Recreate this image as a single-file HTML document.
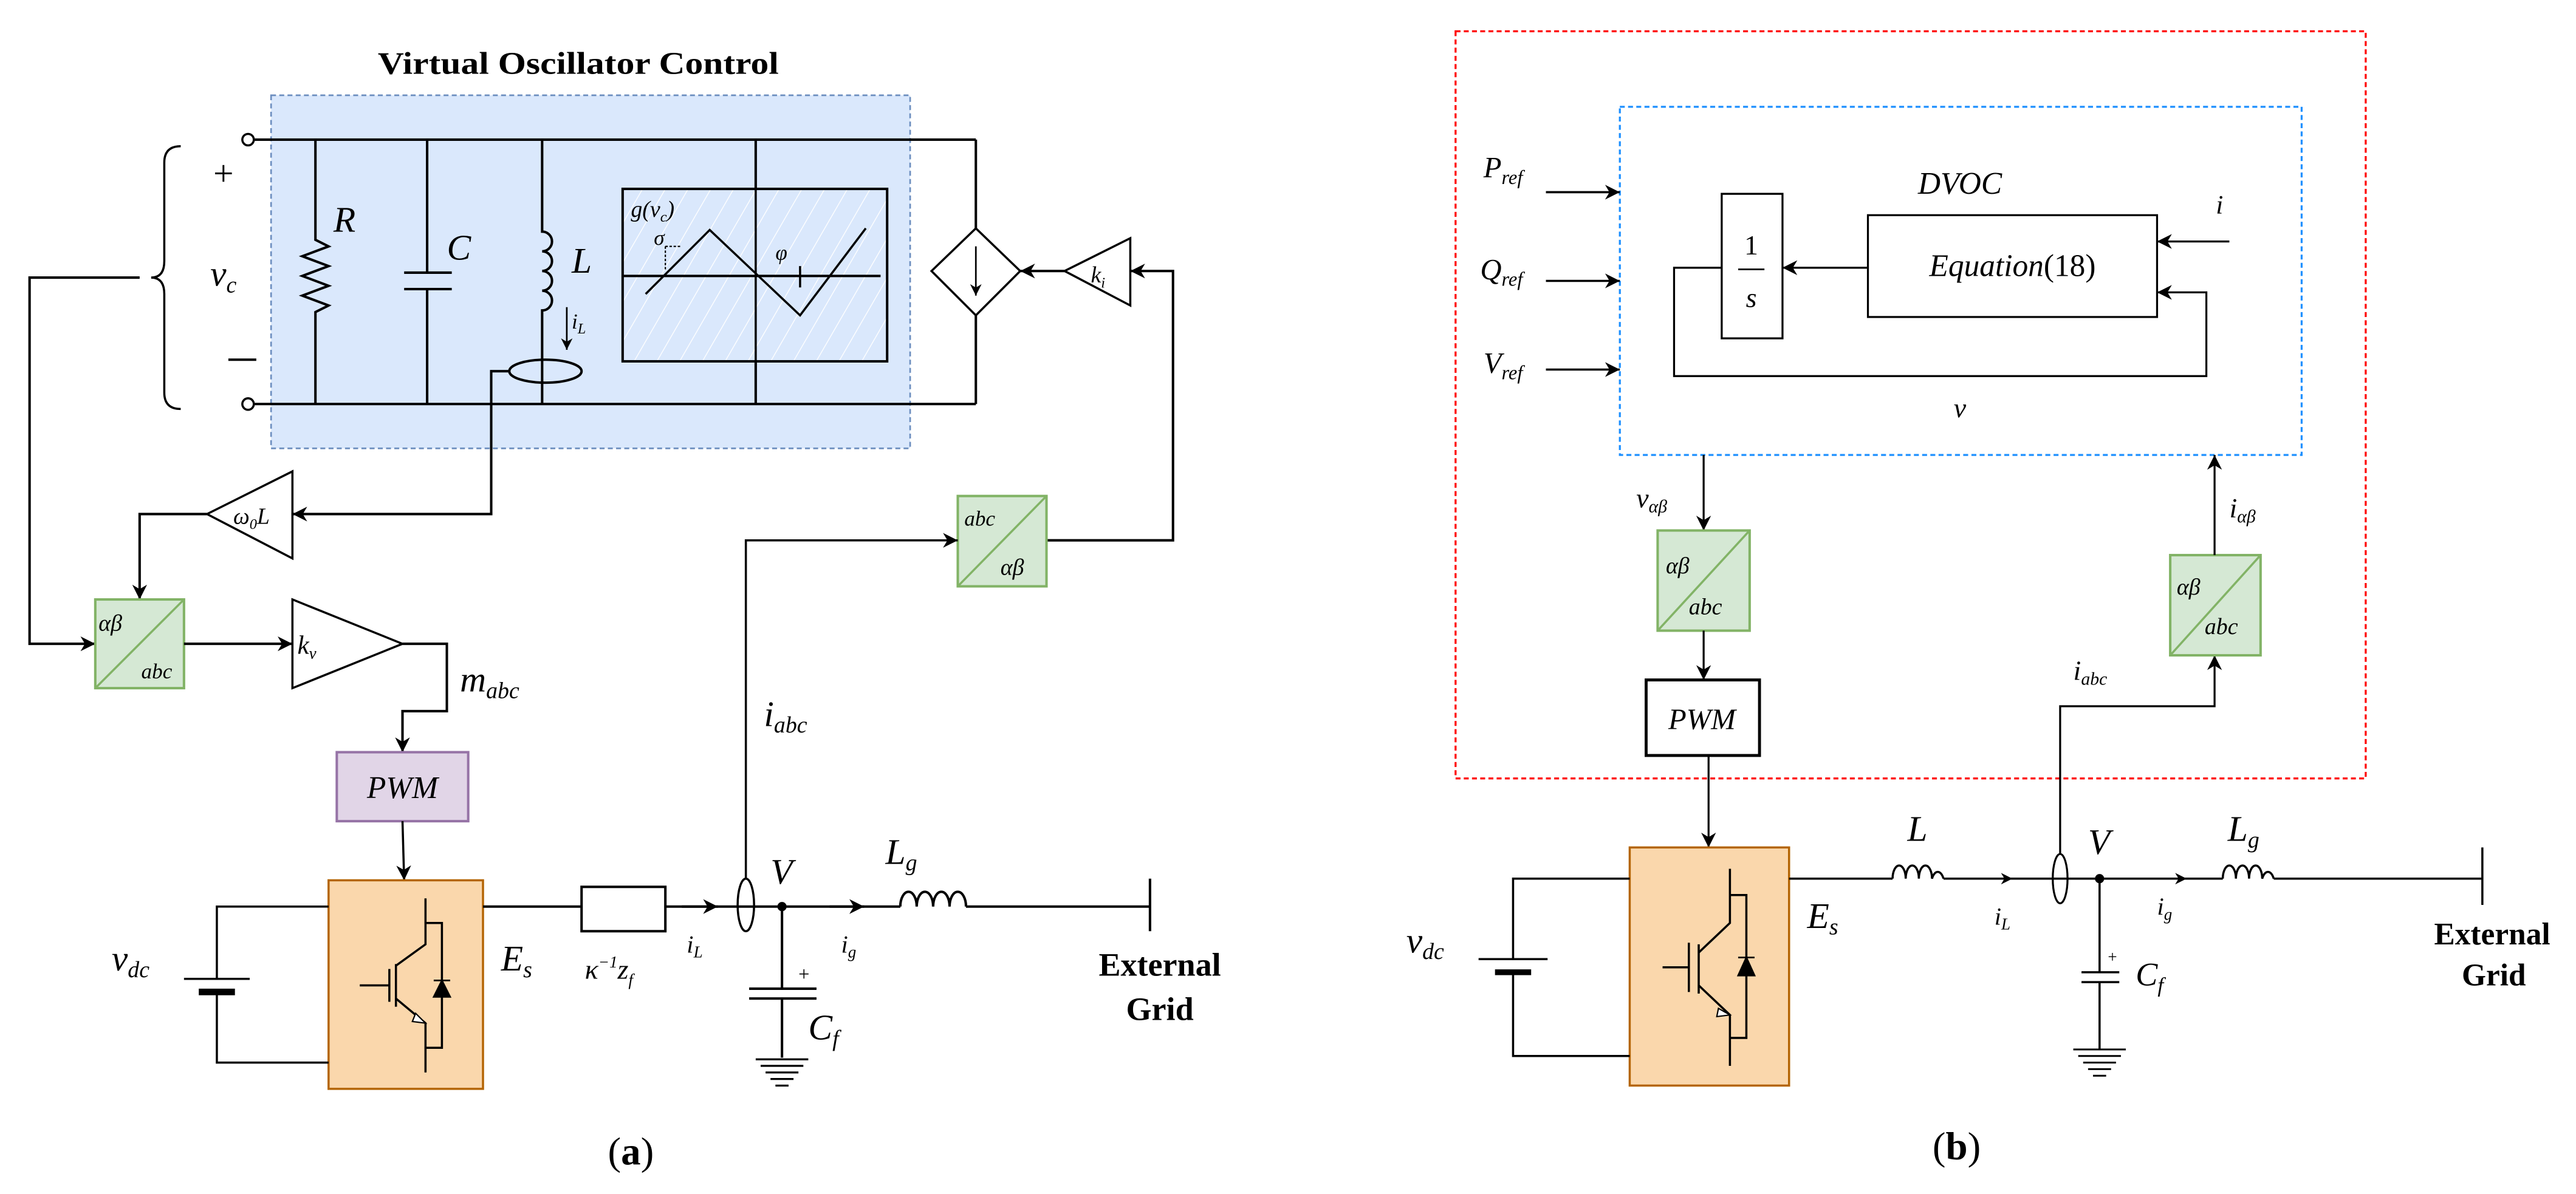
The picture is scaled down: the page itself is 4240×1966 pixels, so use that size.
<!DOCTYPE html>
<html><head><meta charset="utf-8">
<style>
html,body{margin:0;padding:0;background:#fff;}
svg{display:block;}
text{font-family:"Liberation Serif",serif;fill:#000;}
.m{font-style:italic;}
.b{font-weight:bold;}
</style></head><body>
<svg width="4240" height="1966" viewBox="0 0 1568 727" xmlns="http://www.w3.org/2000/svg">
<defs>
<marker id="ar" viewBox="0 0 10 10" refX="10" refY="5" markerWidth="7" markerHeight="7" orient="auto" markerUnits="userSpaceOnUse">
<path d="M0,0 L10,5 L0,10 L3,5 z" fill="#000"/></marker>
<marker id="ar2" viewBox="0 0 10 10" refX="10" refY="5" markerWidth="9" markerHeight="9" orient="auto" markerUnits="userSpaceOnUse">
<path d="M0,0 L10,5 L0,10 L3,5 z" fill="#000"/></marker>
<pattern id="hatch" width="12" height="12" patternUnits="userSpaceOnUse" patternTransform="rotate(30)">
<rect width="12" height="12" fill="#dae8fc"/><line x1="0" y1="0" x2="0" y2="12" stroke="#fff" stroke-width="1"/></pattern>
</defs>
<rect width="1568" height="727" fill="#fff"/>

<!-- ================= PANEL A ================= -->
<text x="352" y="45" class="b" font-size="19" text-anchor="middle" textLength="244" lengthAdjust="spacingAndGlyphs">Virtual Oscillator Control</text>
<rect x="165" y="58" width="389" height="215" fill="#dae8fc" stroke="#6c8ebf" stroke-width="1" stroke-dasharray="3,2"/>

<g stroke="#000" stroke-width="1.5" fill="none">
<!-- rails -->
<line x1="155" y1="85" x2="594" y2="85"/>
<line x1="155" y1="246" x2="594" y2="246"/>
<line x1="594" y1="85" x2="594" y2="139"/>
<line x1="594" y1="192" x2="594" y2="246"/>
<!-- R -->
<path d="M192,85 V146 l8,4 l-16,6 l16,6 l-16,6 l16,6 l-16,6 l16,6 l-8,4 V246"/>
<!-- C -->
<path d="M260,85 V166 M246,166 H275 M246,176 H275 M260,176 V246"/>
<!-- L -->
<path d="M330,85 V141 a6,6 0 0 1 0,12 a6,6 0 0 1 0,12 a6,6 0 0 1 0,12 a6,6 0 0 1 0,12 V246"/>
<!-- vertical line through g box -->
<line x1="460" y1="85" x2="460" y2="246"/>
</g>
<circle cx="151" cy="85" r="3.5" fill="#fff" stroke="#000" stroke-width="1.3"/>
<circle cx="151" cy="246" r="3.5" fill="#fff" stroke="#000" stroke-width="1.3"/>
<!-- g box -->
<rect x="379" y="115" width="161" height="105" fill="url(#hatch)" stroke="#000" stroke-width="1.5"/>
<line x1="460" y1="115" x2="460" y2="220" stroke="#000" stroke-width="1.3"/>
<line x1="379" y1="168" x2="536" y2="168" stroke="#000" stroke-width="1.5"/>
<polyline points="393,179 432,140 487,192 527,139" fill="none" stroke="#000" stroke-width="1.3"/>
<line x1="487" y1="162" x2="487" y2="175" stroke="#000" stroke-width="1.3"/>
<path d="M405,150 H414 M405,150 V165" stroke="#000" stroke-width="0.8" stroke-dasharray="1.5,1" fill="none"/>
<text x="384" y="132" class="m" font-size="14">g(v<tspan font-size="9" dy="3">c</tspan><tspan dy="-3">)</tspan></text>
<text x="398" y="149" class="m" font-size="13">σ</text>
<text x="472" y="158" class="m" font-size="13">φ</text>
<!-- i_L arrow & sensor -->
<line x1="345" y1="187" x2="345" y2="213" stroke="#000" stroke-width="1" marker-end="url(#ar)"/>
<text x="348" y="200" class="m" font-size="13">i<tspan font-size="9" dy="3">L</tspan></text>
<ellipse cx="332" cy="226" rx="22" ry="7" fill="none" stroke="#000" stroke-width="1.5"/>
<!-- brace -->
<path d="M110,89 Q100,89 100,99 V159 Q100,169 92,169 Q100,169 100,179 V239 Q100,249 110,249" fill="none" stroke="#000" stroke-width="1.3"/>
<text x="136" y="113" font-size="22" text-anchor="middle">+</text>
<line x1="139" y1="219" x2="156" y2="219" stroke="#000" stroke-width="1.5"/>
<text x="128" y="174" class="m" font-size="22">v<tspan font-size="14" dy="4">c</tspan></text>
<text x="203" y="141" class="m" font-size="22">R</text>
<text x="272" y="158" class="m" font-size="22">C</text>
<text x="348" y="166" class="m" font-size="22">L</text>
<!-- diamond -->
<polygon points="594,139 621,165 594,192 567,165" fill="#fff" stroke="#000" stroke-width="1.3"/>
<line x1="594" y1="150" x2="594" y2="180" stroke="#000" stroke-width="1" marker-end="url(#ar)"/>
<!-- k_i -->
<polygon points="648,165 688,145 688,186" fill="#fff" stroke="#000" stroke-width="1.3"/>
<text x="664" y="172" class="m" font-size="14">k<tspan font-size="9" dy="3">i</tspan></text>
<line x1="648" y1="165" x2="621" y2="165" stroke="#000" stroke-width="1.5" marker-end="url(#ar2)"/>
<path d="M637,329 H714 V165 H688" fill="none" stroke="#000" stroke-width="1.5" marker-end="url(#ar2)"/>
<!-- abc/alpha beta box a -->
<rect x="583" y="302" width="54" height="55" fill="#d5e8d4" stroke="#82b366" stroke-width="1.5"/>
<line x1="583" y1="357" x2="637" y2="302" stroke="#82b366" stroke-width="1.3"/>
<text x="587" y="320" class="m" font-size="13">abc</text>
<text x="609" y="350" class="m" font-size="14">αβ</text>
<path d="M454,535 V329 H583" fill="none" stroke="#000" stroke-width="1.3" marker-end="url(#ar2)"/>
<text x="465" y="442" class="m" font-size="22">i<tspan font-size="14" dy="4">abc</tspan></text>
<!-- w0L -->
<polygon points="126,313 178,287 178,340" fill="#fff" stroke="#000" stroke-width="1.3"/>
<text x="142" y="319" class="m" font-size="14">ω<tspan font-size="9" dy="3">0</tspan><tspan dy="-3">L</tspan></text>
<path d="M310,226 H299 V313 H178" fill="none" stroke="#000" stroke-width="1.5" marker-end="url(#ar2)"/>
<path d="M126,313 H85 V365" fill="none" stroke="#000" stroke-width="1.5" marker-end="url(#ar2)"/>
<path d="M85,169 H18 V392 H58" fill="none" stroke="#000" stroke-width="1.5" marker-end="url(#ar2)"/>
<!-- alpha beta / abc a -->
<rect x="58" y="365" width="54" height="54" fill="#d5e8d4" stroke="#82b366" stroke-width="1.5"/>
<line x1="58" y1="419" x2="112" y2="365" stroke="#82b366" stroke-width="1.3"/>
<text x="60" y="384" class="m" font-size="14">αβ</text>
<text x="86" y="413" class="m" font-size="13">abc</text>
<line x1="112" y1="392" x2="178" y2="392" stroke="#000" stroke-width="1.5" marker-end="url(#ar2)"/>
<!-- k_v -->
<polygon points="178,365 245,392 178,419" fill="#fff" stroke="#000" stroke-width="1.3"/>
<text x="181" y="398" class="m" font-size="16">k<tspan font-size="10" dy="3">v</tspan></text>
<path d="M245,392 H272 V433 H245 V458" fill="none" stroke="#000" stroke-width="1.5" marker-end="url(#ar2)"/>
<text x="280" y="421" class="m" font-size="22">m<tspan font-size="14" dy="4">abc</tspan></text>
<!-- PWM a -->
<rect x="205" y="458" width="80" height="42" fill="#e1d5e7" stroke="#9673a6" stroke-width="1.5"/>
<text x="245" y="486" class="m" font-size="19" text-anchor="middle">PWM</text>
<line x1="245" y1="500" x2="246" y2="536" stroke="#000" stroke-width="1.3" marker-end="url(#ar2)"/>
<!-- inverter a -->
<rect x="200" y="536" width="94" height="127" fill="#fad7ac" stroke="#b46504" stroke-width="1.3"/>
<g stroke="#000" stroke-width="1.3" fill="none">
<path d="M259,547 V575 L241,588 M259,562 H269 V638 H259 M241,608 L259,623 V653 M259,575 V562"/>
<path d="M241,587 V613 M237,590 V610 M219,600 H237"/>
</g>
<path d="M253,617 L259,623 L251,622 z" fill="#fff" stroke="#000" stroke-width="0.8"/>
<path d="M264,607 L269,597 L274,607 z M264,597 H274" fill="#000" stroke="#000" stroke-width="1"/>
<!-- dc source a -->
<g stroke="#000" stroke-width="1.3" fill="none">
<path d="M200,552 H132 V596 M132,603 V647 H200"/>
<line x1="112" y1="596" x2="152" y2="596"/>
</g>
<line x1="121" y1="604" x2="143" y2="604" stroke="#000" stroke-width="4"/>
<text x="68" y="591" class="m" font-size="22">v<tspan font-size="14" dy="4">dc</tspan></text>
<text x="305" y="591" class="m" font-size="22">E<tspan font-size="14" dy="4">s</tspan></text>
<!-- output line a -->
<g stroke="#000" stroke-width="1.5" fill="none">
<line x1="294" y1="552" x2="354" y2="552"/>
<rect x="354" y="540" width="51" height="27" fill="#fff"/>
<line x1="405" y1="552" x2="548" y2="552"/>
<path d="M548,552 a5,9 0 0 1 10,0 a5,9 0 0 1 10,0 a5,9 0 0 1 10,0 a5,9 0 0 1 10,0"/>
<line x1="588" y1="552" x2="700" y2="552"/>
<line x1="700" y1="535" x2="700" y2="567"/>
</g>
<line x1="415" y1="552" x2="437" y2="552" stroke="#000" stroke-width="1.5" marker-end="url(#ar2)"/>
<line x1="505" y1="552" x2="526" y2="552" stroke="#000" stroke-width="1.5" marker-end="url(#ar2)"/>
<ellipse cx="454" cy="551" rx="5" ry="16" fill="none" stroke="#000" stroke-width="1.3"/>
<circle cx="476" cy="552" r="2.8" fill="#000"/>
<text x="356" y="596" class="m" font-size="17">κ<tspan font-size="10" dy="-7">−1</tspan><tspan dy="7">z</tspan><tspan font-size="10" dy="4">f</tspan></text>
<text x="418" y="580" class="m" font-size="15">i<tspan font-size="10" dy="3">L</tspan></text>
<text x="512" y="580" class="m" font-size="15">i<tspan font-size="10" dy="3">g</tspan></text>
<text x="469" y="538" class="m" font-size="22">V</text>
<text x="539" y="526" class="m" font-size="22">L<tspan font-size="14" dy="4">g</tspan></text>
<!-- Cf a -->
<g stroke="#000" stroke-width="1.5" fill="none">
<path d="M476,552 V602 M456,602 H497 M456,608 H497 M476,608 V644"/>
</g>
<g stroke="#000" stroke-width="1.2">
<line x1="460" y1="645" x2="492" y2="645"/><line x1="463" y1="649" x2="489" y2="649"/>
<line x1="466" y1="653" x2="486" y2="653"/><line x1="469" y1="657" x2="483" y2="657"/>
<line x1="472" y1="661" x2="480" y2="661"/>
</g>
<text x="486" y="597" font-size="12">+</text>
<text x="492" y="633" class="m" font-size="22">C<tspan font-size="14" dy="4">f</tspan></text>
<text x="706" y="594" class="b" font-size="20" text-anchor="middle">External</text>
<text x="706" y="621" class="b" font-size="20" text-anchor="middle">Grid</text>
<text x="384" y="709" font-size="24" text-anchor="middle">(<tspan font-weight="bold">a</tspan>)</text>

<!-- ================= PANEL B ================= -->
<rect x="886" y="19" width="554" height="455" fill="none" stroke="#ff0000" stroke-width="1.2" stroke-dasharray="3,2"/>
<rect x="986" y="65" width="415" height="212" fill="none" stroke="#1e90ff" stroke-width="1.2" stroke-dasharray="3,2"/>
<text x="903" y="108" class="m" font-size="18">P<tspan font-size="12" dy="4">ref</tspan></text>
<text x="901" y="170" class="m" font-size="18">Q<tspan font-size="12" dy="4">ref</tspan></text>
<text x="903" y="227" class="m" font-size="18">V<tspan font-size="12" dy="4">ref</tspan></text>
<line x1="941" y1="117" x2="986" y2="117" stroke="#000" stroke-width="1.3" marker-end="url(#ar2)"/>
<line x1="941" y1="171" x2="986" y2="171" stroke="#000" stroke-width="1.3" marker-end="url(#ar2)"/>
<line x1="941" y1="225" x2="986" y2="225" stroke="#000" stroke-width="1.3" marker-end="url(#ar2)"/>
<rect x="1048" y="118" width="37" height="88" fill="#fff" stroke="#000" stroke-width="1.2"/>
<text x="1066" y="155" font-size="17" text-anchor="middle">1</text>
<line x1="1058" y1="164" x2="1074" y2="164" stroke="#000" stroke-width="1"/>
<text x="1066" y="187" class="m" font-size="17" text-anchor="middle">s</text>
<rect x="1137" y="131" width="176" height="62" fill="#fff" stroke="#000" stroke-width="1.2"/>
<text x="1225" y="168" font-size="19" text-anchor="middle"><tspan font-style="italic">Equation</tspan>(18)</text>
<text x="1193" y="118" class="m" font-size="19" text-anchor="middle">DVOC</text>
<line x1="1137" y1="163" x2="1085" y2="163" stroke="#000" stroke-width="1.2" marker-end="url(#ar2)"/>
<path d="M1048,163 H1019 V229 H1343 V178 H1313" fill="none" stroke="#000" stroke-width="1.2" marker-end="url(#ar2)"/>
<line x1="1357" y1="147" x2="1313" y2="147" stroke="#000" stroke-width="1.2" marker-end="url(#ar2)"/>
<text x="1351" y="130" class="m" font-size="16" text-anchor="middle">i</text>
<text x="1193" y="254" class="m" font-size="17" text-anchor="middle">v</text>
<line x1="1037" y1="277" x2="1037" y2="323" stroke="#000" stroke-width="1.2" marker-end="url(#ar2)"/>
<text x="996" y="309" class="m" font-size="17">v<tspan font-size="11" dy="3">αβ</tspan></text>
<rect x="1009" y="323" width="56" height="61" fill="#d5e8d4" stroke="#82b366" stroke-width="1.5"/>
<line x1="1009" y1="384" x2="1065" y2="323" stroke="#82b366" stroke-width="1.3"/>
<text x="1014" y="349" class="m" font-size="14">αβ</text>
<text x="1028" y="374" class="m" font-size="14">abc</text>
<line x1="1037" y1="384" x2="1037" y2="414" stroke="#000" stroke-width="1.2" marker-end="url(#ar2)"/>
<rect x="1002" y="414" width="69" height="46" fill="#fff" stroke="#000" stroke-width="1.8"/>
<text x="1036" y="444" class="m" font-size="18" text-anchor="middle">PWM</text>
<line x1="1040" y1="460" x2="1040" y2="516" stroke="#000" stroke-width="1.2" marker-end="url(#ar2)"/>
<!-- inverter b -->
<rect x="992" y="516" width="97" height="145" fill="#fad7ac" stroke="#b46504" stroke-width="1.3"/>
<g stroke="#000" stroke-width="1.3" fill="none">
<path d="M1053,529 V562 L1034,580 M1053,545 H1063 V632 H1053 M1034,600 L1053,618 V649"/>
<path d="M1034,575 V605 M1028,574 V604 M1012,589 H1028"/>
</g>
<path d="M1046,614 L1053,618 L1045,619 z" fill="#fff" stroke="#000" stroke-width="0.8"/>
<path d="M1058,594 L1063,583 L1068,594 z M1058,583 H1068" fill="#000" stroke="#000" stroke-width="1"/>
<g stroke="#000" stroke-width="1.3" fill="none">
<path d="M992,535 H921 V584 M921,592 V643 H992"/>
<line x1="900" y1="584" x2="942" y2="584"/>
</g>
<line x1="910" y1="592" x2="932" y2="592" stroke="#000" stroke-width="3.5"/>
<text x="856" y="580" class="m" font-size="22">v<tspan font-size="14" dy="4">dc</tspan></text>
<text x="1100" y="565" class="m" font-size="22">E<tspan font-size="14" dy="4">s</tspan></text>
<g stroke="#000" stroke-width="1.3" fill="none">
<line x1="1089" y1="535" x2="1152" y2="535"/>
<path d="M1152,535 a4,8 0 0 1 8,0 a4,8 0 0 1 8,0 a4,8 0 0 1 8,0 a4,8 0 0 1 7,0"/>
<line x1="1183" y1="535" x2="1353" y2="535"/>
<path d="M1353,535 a4,8 0 0 1 8,0 a4,8 0 0 1 8,0 a4,8 0 0 1 8,0 a4,8 0 0 1 7,0"/>
<line x1="1384" y1="535" x2="1511" y2="535"/>
<line x1="1511" y1="516" x2="1511" y2="551"/>
</g>
<line x1="1200" y1="535" x2="1225" y2="535" stroke="#000" stroke-width="1.2" marker-end="url(#ar)"/>
<line x1="1305" y1="535" x2="1331" y2="535" stroke="#000" stroke-width="1.2" marker-end="url(#ar)"/>
<ellipse cx="1254" cy="535" rx="4.5" ry="15" fill="none" stroke="#000" stroke-width="1.2"/>
<circle cx="1278" cy="535" r="2.8" fill="#000"/>
<path d="M1254,520 V430 H1348 V399" fill="none" stroke="#000" stroke-width="1.2" marker-end="url(#ar2)"/>
<text x="1262" y="414" class="m" font-size="17">i<tspan font-size="11" dy="3">abc</tspan></text>
<rect x="1321" y="338" width="55" height="61" fill="#d5e8d4" stroke="#82b366" stroke-width="1.5"/>
<line x1="1321" y1="399" x2="1376" y2="338" stroke="#82b366" stroke-width="1.3"/>
<text x="1325" y="362" class="m" font-size="14">αβ</text>
<text x="1342" y="386" class="m" font-size="14">abc</text>
<line x1="1348" y1="338" x2="1348" y2="277" stroke="#000" stroke-width="1.2" marker-end="url(#ar2)"/>
<text x="1357" y="315" class="m" font-size="17">i<tspan font-size="11" dy="3">αβ</tspan></text>
<text x="1161" y="512" class="m" font-size="22">L</text>
<text x="1271" y="520" class="m" font-size="22">V</text>
<text x="1356" y="512" class="m" font-size="22">L<tspan font-size="14" dy="4">g</tspan></text>
<text x="1214" y="563" class="m" font-size="15">i<tspan font-size="10" dy="3">L</tspan></text>
<text x="1313" y="557" class="m" font-size="15">i<tspan font-size="10" dy="3">g</tspan></text>
<g stroke="#000" stroke-width="1.3" fill="none">
<path d="M1278,535 V592 M1267,592 H1290 M1267,598 H1290 M1278,598 V639"/>
</g>
<g stroke="#000" stroke-width="1.1">
<line x1="1262" y1="639" x2="1294" y2="639"/><line x1="1265" y1="643" x2="1291" y2="643"/>
<line x1="1268" y1="647" x2="1288" y2="647"/><line x1="1271" y1="651" x2="1285" y2="651"/>
<line x1="1274" y1="655" x2="1282" y2="655"/>
</g>
<text x="1283" y="586" font-size="10">+</text>
<text x="1300" y="600" class="m" font-size="20">C<tspan font-size="13" dy="4">f</tspan></text>
<text x="1517" y="575" class="b" font-size="19" text-anchor="middle">External</text>
<text x="1518" y="600" class="b" font-size="19" text-anchor="middle">Grid</text>
<text x="1191" y="706" font-size="24" text-anchor="middle">(<tspan font-weight="bold">b</tspan>)</text>
</svg>
</body></html>
